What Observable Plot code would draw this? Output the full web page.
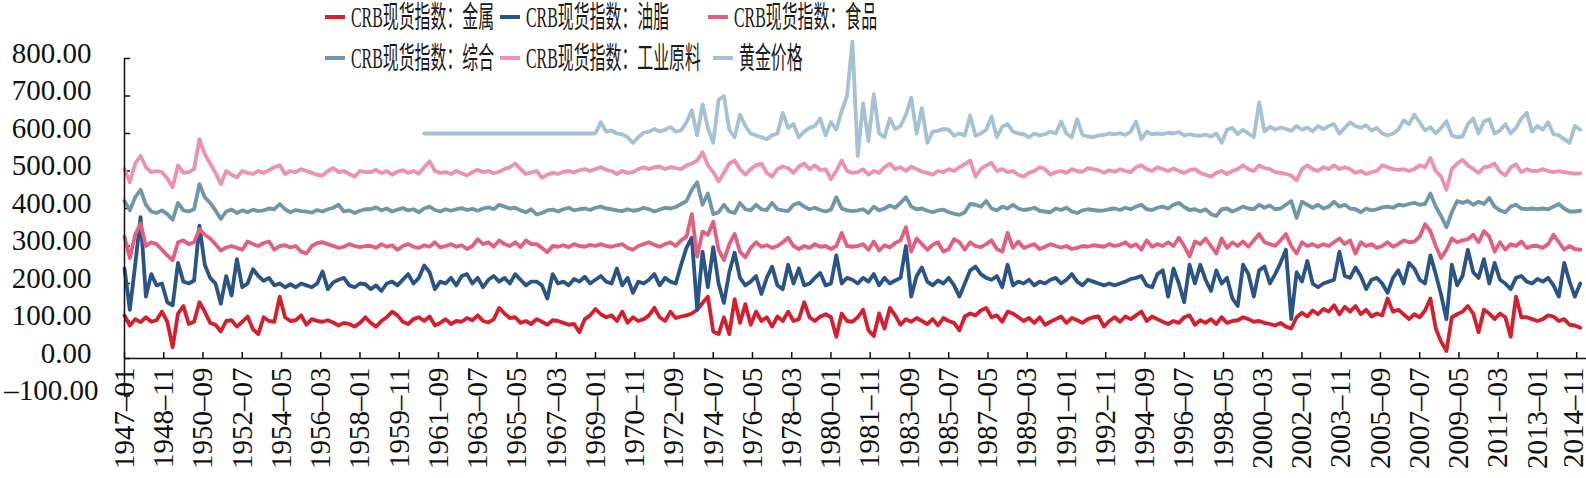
<!DOCTYPE html>
<html>
<head>
<meta charset="utf-8">
<script src="https://cdn.jsdelivr.net/npm/d3@7"></script>
<script src="https://cdn.jsdelivr.net/npm/@observablehq/plot@0.6"></script>
<style>
  html, body { margin: 0; padding: 0; background: #fff; }
  #wrap { position: relative; width: 1586px; height: 478px; overflow: hidden; }
  #chart { position: absolute; left: 0; top: 0; }
  .lg { position: absolute; height: 32px; display: flex; align-items: center; white-space: nowrap; }
  .lg .sw { width: 20px; height: 4px; margin-right: 6px; flex: none; }
  .lg .tx { display: inline-block; font-family: "Liberation Serif", "Noto Sans CJK SC", serif; font-size: 30px; line-height: 32px; color: #1a1a1a; transform: scaleX(0.53); transform-origin: left center; }
</style>
</head>
<body>
<div id="wrap"><div id="chart"></div></div>
<script>
// ---------------- data (quarterly readings, month-on-month index changes stacked with offsets) ----------------
const seriesNames = ["CRB现货指数：金属", "CRB现货指数：油脂", "CRB现货指数：食品", "CRB现货指数：综合", "CRB现货指数：工业原料", "黄金价格"];
const seriesStart = ["1947-01", "1947-01", "1947-01", "1947-01", "1947-01", "1961-01"];
const stepMonths = 3;

const metals = [
115,88,105,97,110,98,102,125,98,30,120,140,92,98,150,125,95,90,72,100,102,85,98,112,78,65,110,100,98,165,110,100,102,115,90,105,100,98,102,96,88,95,92,85,95,110,
95,85,100,110,125,115,98,92,105,110,100,112,88,95,105,92,100,98,108,102,115,100,96,105,135,120,108,110,95,100,92,105,98,90,102,100,95,90,92,70,105,115,132,118,110,
115,100,125,95,110,100,105,115,135,110,100,125,108,112,115,120,130,148,165,72,65,110,65,158,95,145,90,125,100,110,85,112,100,125,100,105,150,110,100,112,118,110,58,120,100,98,
110,130,75,60,120,80,135,115,90,105,98,108,100,92,105,88,108,100,95,75,112,120,115,128,135,110,115,98,125,120,110,100,108,95,110,90,98,105,112,95,108,102,95,105,110,112,
85,100,110,98,112,105,115,125,100,112,105,98,92,100,95,110,115,90,102,95,105,92,110,95,100,102,110,105,98,100,95,92,88,95,85,80,110,122,112,128,118,132,125,142,118,138,
125,140,118,130,112,120,115,160,125,130,118,105,118,110,128,160,80,45,20,110,118,125,140,120,70,130,120,105,120,110,58,165,110,110,105,100,105,115,112,100,105,90,88,82
];
const oils = [
240,130,250,377,165,225,195,200,150,142,255,205,200,208,354,250,215,200,146,220,168,265,190,200,238,220,207,215,195,200,190,198,190,200,195,190,200,232,185,203,210,215,195,190,200,198,
185,195,180,200,205,195,210,225,200,215,248,230,185,205,200,215,195,220,225,200,215,190,210,220,205,215,200,225,210,195,205,205,195,160,225,200,205,195,212,205,218,200,210,220,205,
200,240,195,215,175,205,200,210,225,195,215,205,200,250,295,322,130,285,190,297,200,148,230,282,215,195,205,220,172,215,245,195,185,250,200,240,195,200,215,228,195,200,275,200,215,210,
200,215,205,225,195,215,200,208,215,300,165,220,243,205,195,208,200,215,195,165,200,235,245,225,215,210,220,190,250,195,205,200,210,195,205,200,210,215,200,210,225,205,195,210,205,200,
195,200,195,200,205,212,215,220,195,190,225,235,165,240,200,150,250,200,250,210,180,235,200,215,160,140,250,225,165,235,245,200,225,255,290,105,230,205,260,200,190,200,205,210,285,220,
215,243,220,185,210,215,200,175,215,235,200,255,240,210,200,275,225,170,105,250,195,220,290,230,215,265,200,255,210,200,185,215,220,205,200,212,205,215,195,165,255,205,165,200
];
const foods = [
325,268,330,360,300,310,305,290,275,262,310,315,305,310,345,330,320,305,288,296,300,295,290,312,305,300,308,312,290,300,302,296,300,285,280,300,308,310,305,300,295,298,305,300,297,300,
300,295,305,298,302,290,300,305,298,295,302,298,310,296,300,305,298,302,292,300,318,305,310,298,315,305,300,310,297,315,305,305,295,283,300,298,302,297,305,300,298,303,300,305,300,
298,302,305,295,290,300,305,310,303,298,305,310,300,315,325,385,272,338,330,365,290,262,305,332,285,270,295,310,298,302,295,300,310,322,300,292,300,295,305,298,300,292,300,335,300,298,
300,305,290,312,288,302,296,308,315,350,285,320,305,290,303,310,285,292,318,310,290,310,300,297,305,315,292,285,335,295,312,295,300,305,292,298,305,300,296,300,292,295,300,298,302,300,
298,305,300,303,310,298,305,290,315,298,305,300,310,300,322,300,272,312,305,320,300,280,320,295,310,300,312,298,315,332,310,305,300,315,332,300,280,310,300,305,298,305,300,310,320,305,
315,280,310,300,305,295,300,310,298,305,315,310,312,325,358,340,300,268,290,320,310,315,318,330,310,340,325,285,310,290,305,300,312,295,300,300,295,305,330,310,290,300,292,290
];
const composite = [
420,395,430,450,410,392,388,395,385,370,415,395,392,398,465,430,415,395,372,392,397,388,395,390,397,393,395,400,398,412,398,390,396,393,392,389,396,392,398,402,410,392,395,388,394,398,
398,403,395,400,392,397,401,395,398,390,400,405,396,392,398,394,398,401,396,399,394,400,403,398,410,405,400,402,395,390,398,384,388,395,397,392,398,402,395,398,400,396,402,405,400,
398,395,393,398,394,396,402,398,392,397,402,400,404,412,420,450,470,410,440,385,390,410,392,388,415,398,395,410,398,396,415,398,395,393,410,415,405,398,402,396,392,397,430,400,395,393,
395,398,388,405,395,400,408,402,415,430,405,398,400,394,390,395,397,390,386,383,390,412,410,405,420,400,395,405,400,410,400,396,398,402,394,392,390,400,396,402,392,388,395,398,396,394,
395,398,400,396,402,398,405,410,398,396,402,405,400,410,415,404,396,398,392,398,385,380,398,400,392,398,405,400,398,410,402,408,398,400,410,420,375,418,410,402,410,400,405,418,405,410,
400,398,390,400,395,398,403,405,402,410,408,412,415,410,412,440,405,380,350,390,420,415,420,410,418,412,428,405,395,390,405,410,400,398,400,398,400,398,405,412,400,392,392,394
];
const industrials = [
505,470,520,540,510,497,500,497,480,457,515,495,497,505,585,545,520,495,465,500,490,483,500,495,492,500,495,502,510,515,492,500,497,505,500,495,490,488,500,508,497,500,492,485,500,497,
497,503,494,500,490,498,502,495,500,493,510,526,500,495,497,492,500,494,488,497,503,497,500,494,498,505,510,520,505,492,496,500,482,490,495,492,498,500,496,502,505,500,505,510,503,
500,492,500,495,497,505,510,505,510,512,505,510,508,505,515,520,528,550,515,497,472,495,520,528,505,490,505,515,520,495,485,505,512,508,495,512,520,505,515,502,505,478,500,528,500,495,
497,505,490,500,495,510,520,505,510,500,512,505,498,495,490,500,497,505,500,510,518,528,485,505,515,522,500,505,497,500,490,485,495,500,510,505,490,497,500,495,505,500,498,508,505,502,
495,502,498,505,500,497,510,515,505,500,510,505,500,507,500,495,502,505,495,490,485,495,500,492,500,505,515,505,500,515,508,505,497,495,492,488,475,505,515,505,500,510,505,515,505,510,
505,495,500,492,497,500,515,510,505,503,505,500,505,515,510,535,500,485,450,505,520,530,515,505,495,510,512,520,498,488,510,518,497,505,500,500,505,500,497,500,497,495,493,494
];
const gold = [
600,600,600,600,600,600,600,600,600,600,600,600,600,600,600,600,600,600,600,600,600,600,600,600,600,600,600,600,600,600,600,600,600,630,605,
608,600,598,590,575,590,602,605,612,605,610,617,605,608,630,662,595,678,615,575,690,700,610,590,650,620,600,595,590,585,595,600,655,615,625,590,605,615,620,640,595,630,610,660,700,845,
540,680,580,705,600,590,640,612,620,650,695,600,668,575,605,607,612,610,594,600,595,648,594,600,610,645,590,618,625,605,600,598,590,600,595,598,605,600,632,600,590,638,596,592,590,595,
596,600,598,601,596,605,632,585,605,598,600,598,602,600,604,595,598,595,594,597,592,600,575,610,615,598,610,600,590,683,605,618,610,616,612,607,620,610,616,606,620,612,620,625,600,615,
630,620,615,622,608,615,600,595,600,610,635,625,650,630,608,617,600,615,633,595,590,592,625,640,600,632,638,600,608,625,600,615,640,655,605,620,610,630,598,595,585,575,620,610
];
const seriesValues = [metals, oils, foods, composite, industrials, gold];

const xTickLabels = ["1947-01","1948-11","1950-09","1952-07","1954-05","1956-03","1958-01","1959-11","1961-09","1963-07",
  "1965-05","1967-03","1969-01","1970-11","1972-09","1974-07","1976-05","1978-03","1980-01","1981-11",
  "1983-09","1985-07","1987-05","1989-03","1991-01","1992-11","1994-09","1996-07","1998-05","2000-03",
  "2002-01","2003-11","2005-09","2007-07","2009-05","2011-03","2013-01","2014-11"];
const yTicks = [-100, 0, 100, 200, 300, 400, 500, 600, 700, 800];

// ---------------- styles ----------------
const colors = ["#d61f2e", "#2b5486", "#e2607f", "#6f97a7", "#ec92ae", "#a5c2d2"];

// ---------------- build ----------------
const monthIndex = s => { const [y, m] = s.split("-").map(Number); return (y - 1947) * 12 + (m - 1); };
const rows = [];
seriesNames.forEach((name, k) => {
  const m0 = monthIndex(seriesStart[k]);
  seriesValues[k].forEach((v, i) => rows.push({series: name, m: m0 + i * stepMonths, v}));
});
const xTicks = xTickLabels.map(monthIndex);
const lastTick = xTicks[xTicks.length - 1];
const labelOf = new Map(xTickLabels.map(s => [monthIndex(s), s.replace("-", "–")]));
const fmtY = d => d3.format(".2f")(d).replace("−", "–");

const chart = Plot.plot({
  width: 1586,
  height: 478,
  marginLeft: 124,
  marginRight: 0,
  marginTop: 58,
  marginBottom: 120,
  x: {domain: [0, 819.5], axis: null},
  y: {domain: [0, 800], axis: null},
  color: {domain: seriesNames, range: colors},
  style: {fontFamily: "'Liberation Serif', serif", background: "transparent", color: "#111", overflow: "visible"},
  marks: [
    Plot.axisY({ticks: yTicks, tickSize: -6, tickFormat: () => "", label: null, strokeWidth: 1.5}),
    Plot.axisY({ticks: yTicks.filter(d => d >= 0), tickSize: 0, tickPadding: 33, tickFormat: fmtY, fontSize: 29, dy: -5, label: null}),
    Plot.axisY({ticks: yTicks.filter(d => d < 0), tickSize: 0, tickPadding: 26, tickFormat: fmtY, fontSize: 29, dy: -5, label: null}),
    Plot.axisX({ticks: xTicks, tickSize: -6, tickFormat: () => "", label: null, strokeWidth: 1.5}),
    Plot.axisX({ticks: xTicks.filter(d => d !== lastTick), tickSize: 0, tickPadding: 9, tickRotate: -90, tickFormat: d => labelOf.get(d), fontSize: 29, label: null}),
    Plot.axisX({ticks: [lastTick], tickSize: 0, tickPadding: 9, tickRotate: -90, tickFormat: d => labelOf.get(d), fontSize: 29, label: null, dx: -3}),
    Plot.line(rows, {x: "m", y: "v", z: "series", stroke: "series", strokeWidth: 3.8, strokeLinejoin: "round"}),
    Plot.ruleY([0], {stroke: "#111", strokeWidth: 1.5}),
    Plot.ruleX([0], {y1: -100, y2: 800, stroke: "#111", strokeWidth: 1.5})
  ]
});
document.getElementById("chart").appendChild(chart);

// ---------------- legend (overlaid above the plot) ----------------
const legendPos = [[325, 1], [500, 1], [708, 1], [325, 42], [500, 42], [713, 42]];
const wrap = document.getElementById("wrap");
seriesNames.forEach((name, k) => {
  const d = document.createElement("div");
  d.className = "lg";
  d.style.left = legendPos[k][0] + "px";
  d.style.top = legendPos[k][1] + "px";
  d.innerHTML = `<span class="sw" style="background:${colors[k]}"></span><span class="tx">${name}</span>`;
  wrap.appendChild(d);
});
</script>
</body>
</html>
